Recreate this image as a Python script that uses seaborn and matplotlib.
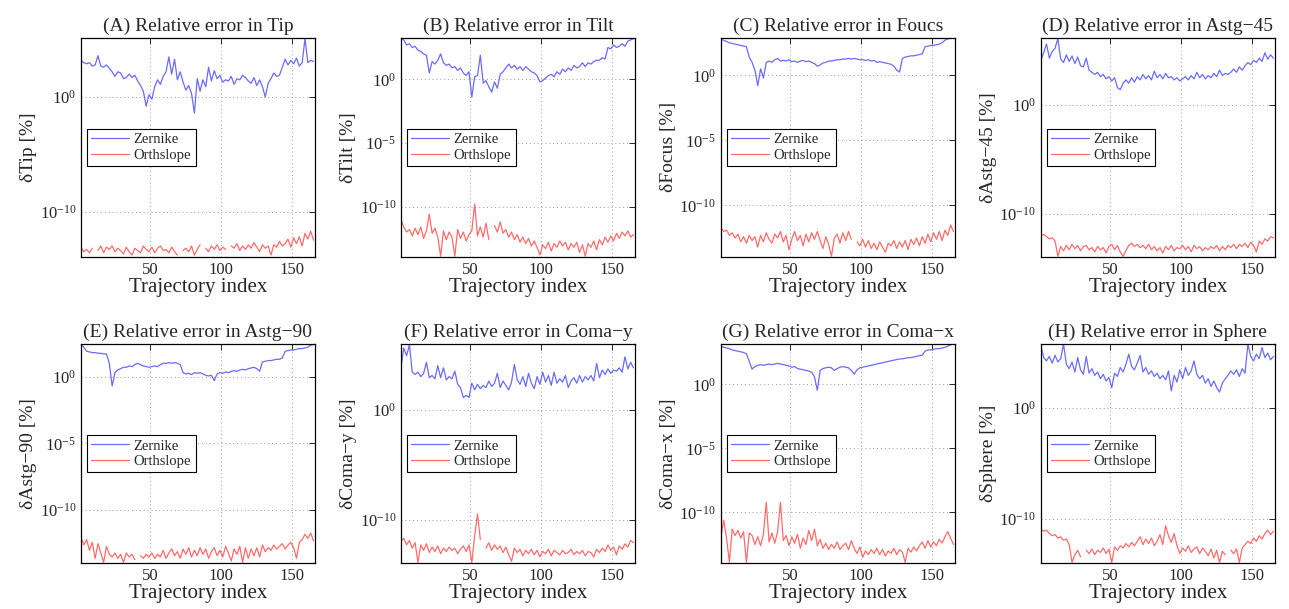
import numpy as np
import pandas as pd
import matplotlib
matplotlib.use("Agg")
import matplotlib.pyplot as plt
import seaborn as sns
from matplotlib.ticker import LogFormatterMathtext, NullLocator

nan = np.nan

# trajectory index (every second trajectory is drawn)
traj = list(range(1, 166, 2))

# relative errors, stored as log10 of the percentage value (nan = exact zero, gap on log axis)
tip_zernike = [3.2, 3.0, 2.9, 3.0, 2.7, 2.8, 3.6, 2.7, 2.6, 2.8,
               2.5, 2.2, 1.8, 2.2, 2.1, 1.6, 1.7, 2.0, 1.7, 1.9,
               1.4, 1.0, 0.5, -0.8, 0.2, -0.2, 0.9, 1.5, 1.1, 1.8,
               2.2, 3.5, 2.0, 3.3, 1.5, 2.2, 1.3, 0.6, 1.0, 0.3,
               -1.4, 1.6, 0.5, 1.5, 0.9, 2.6, 1.4, 2.3, 1.6, 1.9,
               1.3, 1.5, 1.4, 1.8, 1.1, 1.6, 1.5, 1.9, 1.7, 1.4,
               1.2, 1.7, 1.0, 1.5, 0.9, 0.0, 1.2, 1.6, 2.1, 1.8,
               1.9, 2.6, 3.3, 2.8, 3.2, 2.9, 3.4, 2.7, 3.0, 5.1,
               3.0, 3.2, 3.1]
tip_orth = [-13.1, -13.5, -13.3, -13.6, -13.2, nan, -13.4, -13.0, -13.6, -13.1,
            -13.3, -13.0, -13.5, -13.2, -13.4, -13.7, -13.1, -13.5, -13.8, -13.2,
            -13.4, -13.6, -13.0, -13.3, -13.5, -13.1, -13.6, -13.2, -13.0, -13.4,
            -13.3, -13.6, -13.1, -13.5, -13.8, nan, -13.4, -13.2, -13.5, -13.0,
            -13.8, -13.3, -12.9, nan, -13.2, -13.5, -13.0, -13.3, -12.9, -13.4,
            -13.1, -13.3, nan, -13.0, -13.2, -12.8, -13.4, -13.0, -13.3, -12.9,
            -13.2, -12.7, -13.1, -13.5, -12.9, -13.2, -13.0, -13.8, -12.9, -13.1,
            -12.6, -13.0, -12.8, -12.4, -13.1, -12.3, -12.8, -12.2, -13.0, -11.9,
            -12.4, -11.7, -12.5]

tilt_zernike = [3.2, 3.1, 2.7, 2.8, 2.5, 2.6, 2.3, 2.2, 2.0, 1.9,
                0.5, 1.4, 1.2, 1.5, 2.0, 1.3, 1.1, 1.2, 0.9, 1.0,
                0.7, 0.9, 0.5, 0.3, 0.6, -1.4, 0.2, 0.3, 1.9, -0.3,
                -0.1, -0.6, -1.0, -0.2, -0.7, 0.4, 0.6, 0.9, 1.2, 0.9,
                1.1, 0.8, 1.0, 0.7, 1.0, 0.8, 0.6, 0.5, 0.3, -0.2,
                -0.1, 0.1, 0.3, 0.4, 0.2, 0.6, 0.4, 0.8, 0.6, 0.9,
                0.7, 1.1, 0.9, 1.0, 1.3, 1.0, 1.3, 1.2, 1.4, 1.5,
                1.5, 1.7, 1.6, 2.5, 2.4, 2.7, 2.5, 2.6, 2.8, 2.6,
                3.0, 3.1, 3.2]
tilt_orth = [-11.0, -11.6, -12.0, -11.8, -12.3, -11.7, -12.2, -11.6, -12.5, -11.9,
             -10.6, -12.1, -11.7, -12.4, -13.9, -11.9, -12.6, -12.0, -12.4, -13.9,
             -11.8, -12.5, -12.0, -12.7, -12.2, -11.9, -9.8, -12.3, -11.6, -12.4,
             -11.3, -12.6, nan, -11.5, -12.0, -11.2, -12.1, -11.8, -12.4, -12.0,
             -12.6, -12.2, -12.8, -12.4, -12.9, -12.5, -13.1, -12.7, -13.2, -13.8,
             -13.0, -13.3, -12.8, -13.5, -12.9, -13.2, -12.7, -13.1, -12.8, -13.4,
             -12.9, -13.2, -12.8, -13.6, -13.0, -13.9, -12.9, -13.2, -12.7, -13.4,
             -12.6, -13.0, -12.4, -12.8, -12.3, -12.7, -12.1, -12.5, -12.0, -12.3,
             -11.9, -12.4, -12.2]

focus_zernike = [2.75, 2.7, 2.6, 2.5, 2.45, 2.4, 2.35, 2.3, 2.25, 2.2,
                 1.4, 1.0, 0.4, -0.8, 0.5, -0.2, 1.0, 1.1, 1.0, 1.2,
                 1.3, 1.1, 1.15, 1.1, 1.2, 1.05, 1.1, 1.0, 1.1, 1.15,
                 1.05, 1.1, 1.0, 0.9, 0.7, 0.8, 0.95, 1.0, 1.1, 1.1,
                 1.15, 1.2, 1.2, 1.25, 1.25, 1.3, 1.25, 1.3, 1.25, 1.2,
                 1.2, 1.15, 1.2, 1.1, 1.15, 1.0, 1.05, 1.0, 0.95, 0.9,
                 0.85, 0.7, 0.4, 0.25, 1.3, 1.4, 1.45, 1.5, 1.5, 1.55,
                 1.6, 1.65, 2.2, 2.25, 2.3, 2.3, 2.35, 2.4, 2.5, 2.7,
                 2.8, 2.85, 2.85]
focus_orth = [-11.7, -12.0, -11.9, -12.3, -12.1, -12.5, -12.2, -12.8, -12.4, -12.9,
              -12.3, -12.7, -12.4, -13.2, -12.3, -12.8, -12.1, -12.6, -12.9, -12.2,
              -12.5, -12.0, -12.8, -12.3, -13.4, -12.6, -12.0, -12.7, -12.3, -13.1,
              -12.2, -12.8, -12.1, -12.6, -12.0, -12.7, -13.3, -12.4, -13.0, -13.9,
              -12.5, -12.2, -12.9, -12.1, -12.7, -12.0, -12.6, nan, -12.8, -13.1,
              -12.6, -13.2, -12.7, -13.3, -12.9, -13.4, -12.8, -13.2, -13.6, -12.9,
              -13.1, -12.7, -13.3, -12.8, -13.2, -12.7, -13.4, -12.6, -13.0, -12.5,
              -13.1, -12.4, -12.9, -12.2, -12.8, -12.1, -12.6, -12.0, -12.7, -11.9,
              -12.3, -11.5, -12.0]

astg45_zernike = [4.1, 4.8, 5.6, 4.3, 4.9, 5.2, 6.1, 4.2, 3.9, 4.6,
                  4.0, 4.5, 3.8, 4.4, 3.6, 3.5, 4.3, 3.2, 3.0, 2.8,
                  3.0, 2.6, 2.8, 2.4, 2.6, 2.2, 2.5, 1.6, 1.4, 2.0,
                  2.3, 2.0, 2.5, 2.1, 2.6, 2.3, 2.8, 2.4, 2.7, 2.3,
                  3.1, 2.5, 2.8, 2.4, 2.9, 2.5, 2.6, 2.3, 2.5, 2.2,
                  2.4, 2.6, 2.3, 2.7, 2.4, 3.0, 2.5, 2.8, 2.4, 2.7,
                  2.5, 2.9, 2.6, 3.2, 2.7, 2.9, 2.8, 3.0, 3.3, 3.0,
                  3.5, 3.2, 3.6, 3.9, 3.7, 4.1, 3.9, 4.3, 4.0, 4.8,
                  4.2, 4.6, 4.3]
astg45_orth = [-12.0, -11.9, -12.1, -12.3, -12.2, -12.5, -13.9, -13.0, -13.4, -12.9,
               -13.3, -12.8, -13.2, -12.9, -13.4, -13.0, -12.9, -13.3, -13.1, -13.5,
               -13.0, -13.3, -13.1, -13.6, -13.0, -12.8, -13.3, -12.9, -13.5, -13.9,
               -13.4, -12.9, -12.7, -13.0, -12.8, -13.1, -12.9, -13.2, -12.8, -13.3,
               -13.0, -13.4, -13.1, -13.6, -13.0, -13.3, -12.9, -13.4, -13.1, -13.2,
               -12.9, -13.3, -13.0, -13.5, -12.9, -13.2, -13.0, -13.4, -13.1, -13.3,
               -13.0, -13.2, -12.9, -13.4, -13.0, -13.3, -12.9, -13.1, -12.8, -13.2,
               -12.8, -13.0, -12.7, -13.1, -12.6, -12.9, -13.5, -12.5, -12.8, -12.3,
               -12.5, -12.1, -12.2]

astg90_zernike = [2.4, 2.2, 1.9, 1.85, 1.8, 1.8, 1.75, 1.75, 1.7, 1.7,
                  1.0, -0.7, 0.3, 0.5, 0.6, 0.7, 0.7, 0.8, 0.75, 0.9,
                  1.0, 0.9, 0.8, 0.75, 0.7, 0.75, 0.8, 0.75, 0.9, 1.0,
                  1.0, 1.05, 1.0, 1.05, 1.0, 0.9, 0.3, 0.2, 0.25, 0.15,
                  0.3, 0.25, 0.3, 0.2, 0.1, 0.05, 0.1, -0.3, 0.2, 0.3,
                  0.25, 0.35, 0.3, 0.4, 0.45, 0.4, 0.5, 0.55, 0.5, 0.6,
                  0.65, 0.7, 0.6, 0.4, 1.1, 1.15, 1.2, 1.2, 1.25, 1.3,
                  1.3, 1.4, 1.9, 1.95, 2.0, 2.0, 2.05, 2.1, 2.1, 2.15,
                  2.2, 2.35, 2.4]
astg90_orth = [-12.0, -12.6, -12.2, -13.0, -12.4, -13.6, -12.5, -13.2, -13.9, -12.7,
               -13.3, -13.5, -13.2, -13.6, -13.3, -13.9, -13.2, -13.5, -13.3, -13.7,
               nan, -13.4, -13.6, -13.3, -13.5, -13.2, -13.6, -13.3, -13.5, -13.0,
               -13.6, -13.2, -12.9, -13.4, -13.1, -13.6, -12.9, -13.3, -12.8, -13.5,
               -13.0, -13.4, -12.8, -13.3, -12.9, -13.6, -13.1, -12.8, -13.4, -13.0,
               -13.5, -12.7, -13.2, -13.8, -12.9, -13.3, -12.7, -13.9, -12.8, -13.6,
               -12.9, -13.4, -12.8, -13.5, -12.6, -13.1, -12.8, -13.0, -12.6, -12.9,
               -12.7, -12.5, -12.9, -12.6, -12.4, -12.8, -13.6, -12.4, -12.2, -11.8,
               -12.1, -11.7, -12.3]

comay_zernike = [3.8, 5.6, 4.9, 5.9, 3.4, 3.2, 3.4, 3.0, 3.3, 4.3,
                 2.9, 3.1, 2.8, 4.0, 2.9, 3.8, 2.7, 3.0, 2.8, 3.5,
                 2.3, 2.0, 1.1, 1.3, 1.1, 2.4, 1.8, 2.3, 1.9, 2.2,
                 2.0, 2.6, 2.1, 2.4, 3.3, 2.0, 2.6, 2.2, 1.8, 2.5,
                 4.1, 2.7, 2.3, 3.0, 2.1, 3.3, 2.4, 1.9, 3.0, 2.3,
                 3.4, 2.5, 3.1, 2.2, 3.4, 2.4, 2.8, 2.5, 3.1, 2.0,
                 2.6, 2.9, 2.4, 3.1, 2.5, 3.0, 2.7, 3.1, 2.6, 4.2,
                 2.9, 3.6, 3.2, 3.7, 3.3, 3.6, 3.5, 3.8, 3.4, 4.8,
                 3.7, 4.3, 3.8]
comay_orth = [-12.0, -11.7, -12.3, -11.9, -12.6, -12.1, -13.9, -12.3, -12.8, -12.2,
              -13.0, -12.5, -12.9, -12.4, -13.1, -12.6, -12.9, -12.5, -12.8, -12.6,
              -13.1, -12.7, -12.4, -12.9, -12.3, -13.9, -11.5, -9.5, -11.8, nan,
              -12.6, -12.1, -12.8, -12.3, -12.7, -12.4, -13.0, -12.5, -13.2, -13.8,
              -12.6, -13.0, -12.7, -13.3, -12.8, -13.1, -12.7, -13.2, -12.8, -13.4,
              -12.9, -13.1, -12.7, -13.3, -12.8, -13.0, -13.2, -12.8, -13.1, -13.0,
              -12.7, -13.2, -12.9, -13.1, -12.8, -13.3, -12.9, -13.0, -13.4, -12.7,
              -13.0, -12.6, -12.9, -12.3, -12.8, -12.5, -13.2, -12.4, -12.7, -12.2,
              -12.5, -11.9, -12.1]

comax_zernike = [3.0, 2.9, 2.85, 2.8, 2.7, 2.65, 2.6, 2.55, 2.5, 2.4,
                 1.8, 1.2, 1.4, 1.5, 1.55, 1.5, 1.55, 1.6, 1.55, 1.6,
                 1.65, 1.6, 1.55, 1.5, 1.45, 1.35, 1.4, 1.25, 1.2, 1.15,
                 1.1, 1.05, 0.95, 0.6, -0.45, 1.1, 1.25, 1.3, 1.35, 1.3,
                 1.1, 1.25, 1.35, 1.4, 1.35, 1.3, 1.1, 0.8, 1.15, 1.3,
                 1.35, 1.4, 1.45, 1.5, 1.55, 1.6, 1.65, 1.7, 1.75, 1.8,
                 1.85, 1.9, 1.95, 2.0, 2.0, 2.05, 2.1, 2.1, 2.15, 2.2,
                 2.25, 2.3, 2.6, 2.7, 2.7, 2.75, 2.8, 2.8, 2.85, 2.9,
                 3.0, 3.1, 3.15]
comax_orth = [-11.9, -10.6, -12.0, -13.9, -11.3, -11.8, -11.4, -12.0, -11.5, -13.9,
              -11.6, -11.8, -12.5, -11.9, -12.6, -11.7, -9.2, -12.3, -11.6, -12.4,
              -11.5, -9.2, -12.2, -11.8, -12.6, -11.9, -12.4, -11.7, -12.8, -12.0,
              -12.5, -11.4, -12.2, -11.3, -12.6, -12.1, -12.8, -12.4, -12.9, -12.5,
              -12.8, -12.3, -12.9, -12.6, -12.4, -12.9, -12.2, -12.8, -13.2, -12.7,
              -13.5, -13.0, -13.3, -12.9, -13.2, -12.8, -13.3, -12.9, -13.4, -13.0,
              -13.2, -12.8, -13.3, -12.9, -13.1, -13.9, -12.8, -13.1, -12.7, -13.0,
              -12.6, -12.3, -12.8, -12.2, -12.7, -12.3, -12.6, -12.1, -12.4, -11.9,
              -11.5, -12.0, -12.5]

sphere_zernike = [5.6, 4.5, 4.2, 4.6, 4.0, 4.7, 4.1, 4.4, 5.7, 3.9,
                  3.5, 4.1, 3.2, 4.5, 3.4, 3.0, 4.6, 3.1, 3.5, 2.9,
                  3.2, 2.6, 3.0, 2.4, 2.7, 1.8, 3.1, 2.8, 3.6, 3.2,
                  3.9, 4.8, 3.7, 3.4, 4.0, 4.7, 3.2, 3.6, 3.0, 3.3,
                  2.8, 3.1, 2.6, 2.9, 2.5, 3.3, 1.5, 2.9, 2.3, 3.4,
                  2.6, 3.6, 2.9, 3.3, 4.2, 3.0, 2.6, 2.9, 2.2, 2.6,
                  1.9, 2.4, 1.8, 1.4, 2.2, 2.6, 2.9, 3.3, 3.0, 3.4,
                  2.8, 3.5, 3.1, 5.7, 4.6, 4.2, 4.8, 4.4, 5.4, 4.5,
                  4.9, 4.3, 4.6]
sphere_orth = [-10.9, -11.1, -11.0, -11.3, -11.5, -11.4, -11.7, -11.6, -11.9, -11.8,
               -12.3, -13.9, -13.2, -12.8, -13.4, nan, -12.8, -13.1, -12.7, -13.2,
               -12.8, -13.0, -12.6, -13.1, -12.7, -13.9, -12.5, -12.8, -12.4, -12.6,
               -12.2, -12.5, -12.1, -12.4, -12.0, -11.6, -12.3, -11.8, -12.2, -11.7,
               -12.4, -12.0, -11.4, -12.3, -10.6, -11.5, -12.1, -11.3, -12.4, -13.1,
               -12.6, -12.9, -12.4, -13.0, -12.7, -12.5, -13.1, -12.6, -12.9, -13.3,
               -12.7, -13.5, -12.8, -13.9, -12.9, -13.2, nan, -12.8, -13.1, -12.7,
               -13.9, -12.6, -12.3, -12.0, -12.2, -11.7, -12.0, -11.5, -11.8, -11.3,
               -11.0, -11.4, -11.1]

panels = [
    ("(A) Relative error in Tip", "δTip [%]", tip_zernike, tip_orth, 5.15, [-10, 0]),
    ("(B) Relative error in Tilt", "δTilt [%]", tilt_zernike, tilt_orth, 3.25, [-10, -5, 0]),
    ("(C) Relative error in Foucs", "δFocus [%]", focus_zernike, focus_orth, 2.87, [-10, -5, 0]),
    ("(D) Relative error in Astg−45", "δAstg−45 [%]", astg45_zernike, astg45_orth, 6.15, [-10, 0]),
    ("(E) Relative error in Astg−90", "δAstg−90 [%]", astg90_zernike, astg90_orth, 2.43, [-10, -5, 0]),
    ("(F) Relative error in Coma−y", "δComa−y [%]", comay_zernike, comay_orth, 5.95, [-10, 0]),
    ("(G) Relative error in Coma−x", "δComa−x [%]", comax_zernike, comax_orth, 3.15, [-10, -5, 0]),
    ("(H) Relative error in Sphere", "δSphere [%]", sphere_zernike, sphere_orth, 5.7, [-10, 0]),
]

COLORS = {"Zernike": "#6a6aff", "Orthslope": "#ff6a6a"}


def series_frame(name, values):
    """One method's curve; a zero value (nan) breaks the line into pieces."""
    vals = np.array(values, dtype=float)
    seg = np.cumsum(np.isnan(vals))
    df = pd.DataFrame({"Trajectory index": traj, "err": 10.0 ** vals,
                       "method": name, "seg": [f"{name}{s}" for s in seg]})
    return df.dropna()


sns.set_style("white")
plt.rcParams["font.family"] = ["Liberation Serif", "DejaVu Serif"]
plt.rcParams["mathtext.fontset"] = "stix"

fig, axes = plt.subplots(2, 4, figsize=(12.89, 6.09), dpi=100)
fig.subplots_adjust(left=0.0628, right=0.989, bottom=0.0755, top=0.9376,
                    wspace=0.3675, hspace=0.399)

for ax, (title, ylabel, zern, orth, ytop, yticks) in zip(axes.flat, panels):
    df = pd.concat([series_frame("Zernike", zern), series_frame("Orthslope", orth)])
    sns.lineplot(data=df, x="Trajectory index", y="err", hue="method", units="seg",
                 palette=COLORS, estimator=None, sort=False, linewidth=0.9, ax=ax)
    ax.set_yscale("log")
    ax.set_xlim(1, 166)
    ax.set_ylim(10.0 ** -13.95, 10.0 ** ytop)
    ax.set_xticks([50, 100, 150])
    ax.set_yticks([10.0 ** t for t in yticks])
    ax.yaxis.set_major_formatter(LogFormatterMathtext())
    ax.yaxis.set_minor_locator(NullLocator())
    ax.grid(True, linestyle=(0, (1, 3)), color="#9a9a9a", linewidth=0.7)
    ax.tick_params(direction="in", top=True, right=True, length=4,
                   labelsize=12, width=0.7)
    for sp in ax.spines.values():
        sp.set_color("black")
        sp.set_linewidth(0.9)
    ax.set_title(title, fontsize=14, pad=5)
    ax.set_xlabel("Trajectory index", fontsize=15, labelpad=0)
    ax.set_ylabel(ylabel, fontsize=14, labelpad=2)
    leg = ax.legend(loc="center left", bbox_to_anchor=(0.026, 0.5), fontsize=10.5,
                    fancybox=False, edgecolor="black", framealpha=1,
                    handlelength=2.6, handletextpad=0.3, borderpad=0.3,
                    labelspacing=0.15, borderaxespad=0)
    leg.get_frame().set_linewidth(0.8)

fig.savefig("out.png", dpi=100)
